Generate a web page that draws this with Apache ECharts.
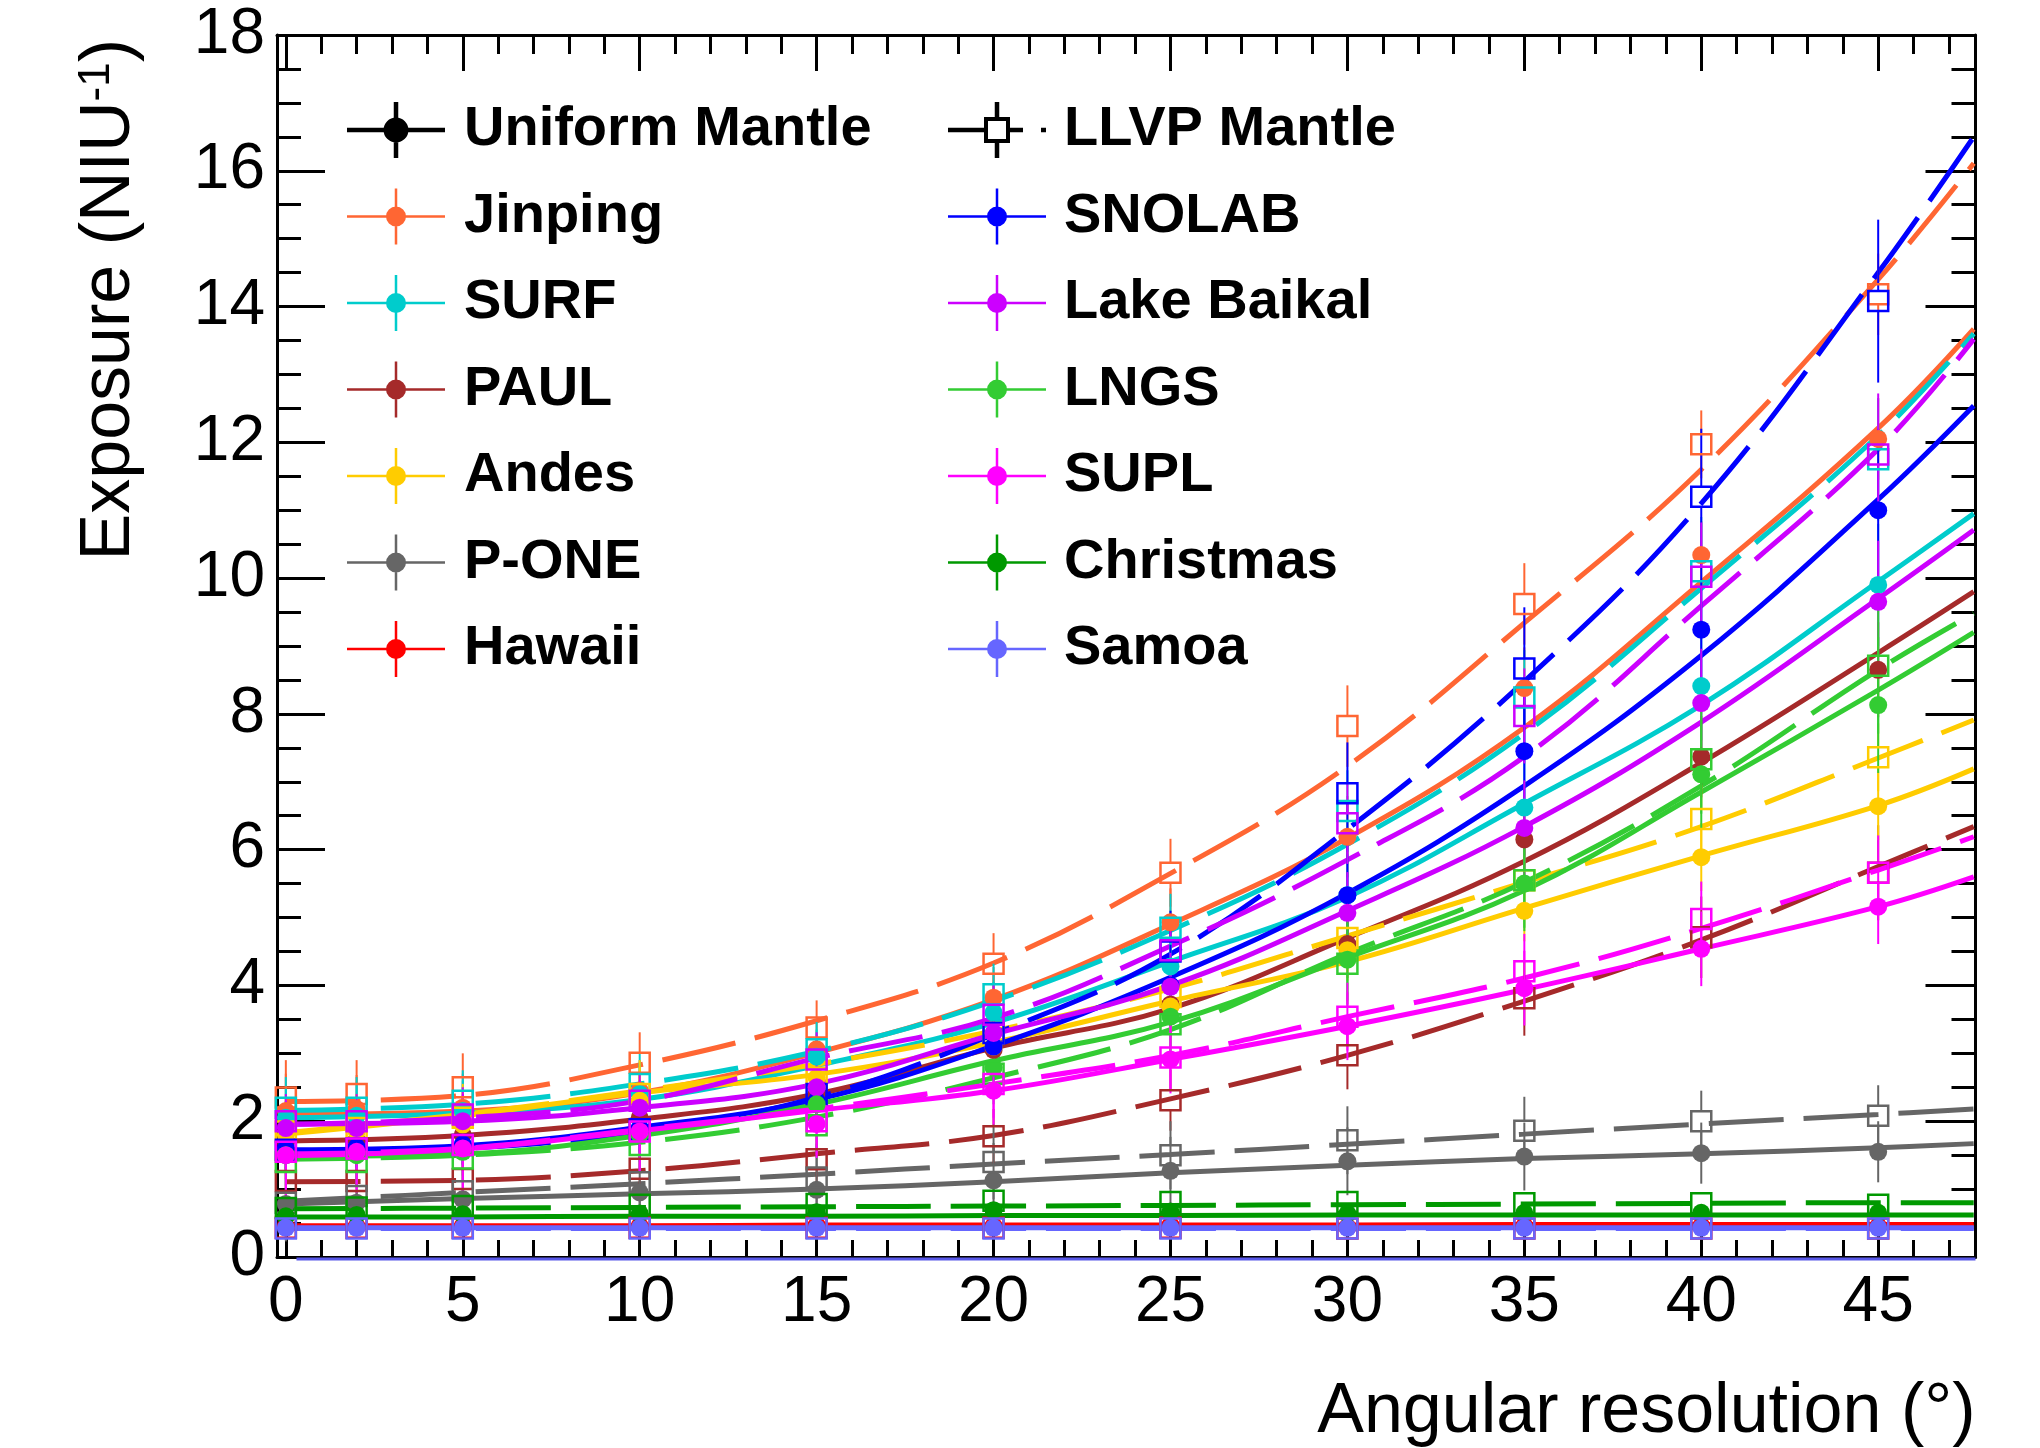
<!DOCTYPE html>
<html>
<head>
<meta charset="utf-8">
<script src="https://cdn.jsdelivr.net/npm/echarts@6/dist/echarts.min.js"></script>
<style>
html,body{margin:0;padding:0;background:#fff;}
#chart{width:2040px;height:1448px;}
</style>
</head>
<body>
<div id="chart"></div>
<script>
// ---------- data ----------
const xPoints = [0, 2, 5, 10, 15, 20, 25, 30, 35, 40, 45];
const xFit = [0, 5, 10, 15, 20, 25, 30, 35, 40, 45, 47.7];
const xMajorTicks = [0, 5, 10, 15, 20, 25, 30, 35, 40, 45];
const xMinorTicks = [1, 2, 3, 4, 6, 7, 8, 9, 11, 12, 13, 14, 16, 17, 18, 19, 21, 22, 23, 24, 26, 27, 28, 29, 31, 32, 33, 34, 36, 37, 38, 39, 41, 42, 43, 44, 46, 47];

const jinpingUniformPts = [2.15, 2.18, 2.2, 2.45, 3.06, 3.82, 4.93, 6.19, 8.38, 10.34, 12.05];
const jinpingUniformFit = [2.10, 2.15, 2.42, 3.01, 3.79, 4.90, 6.17, 7.80, 9.94, 12.21, 13.67];
const jinpingLlvpPts    = [2.35, 2.4, 2.5, 2.86, 3.38, 4.32, 5.66, 7.82, 9.62, 11.97, 14.18];
const jinpingLlvpFit    = [2.29, 2.38, 2.83, 3.48, 4.33, 5.65, 7.23, 9.34, 11.6, 14.4, 16.11];
const jinpingErr        = [0.55, 0.5, 0.5, 0.45, 0.4, 0.45, 0.5, 0.6, 0.6, 0.5, 0.6];

const surfUniformPts = [2.05, 2.08, 2.15, 2.4, 2.95, 3.6, 4.28, 5.33, 6.62, 8.41, 9.9];
const surfUniformFit = [2.05, 2.12, 2.32, 2.82, 3.45, 4.35, 5.30, 6.68, 8.13, 9.95, 10.95];
const surfLlvpPts    = [2.2, 2.2, 2.3, 2.55, 3.06, 3.87, 4.85, 6.57, 8.24, 10.1, 11.75];
const surfLlvpFit    = [2.16, 2.25, 2.55, 3.03, 3.77, 4.81, 6.08, 7.71, 9.85, 12.1, 13.6];
const surfErr        = [0.45, 0.45, 0.45, 0.45, 0.4, 0.45, 0.5, 0.6, 0.7, 0.8, 0.9];

const paulUniformPts = [1.7, 1.72, 1.8, 2.05, 2.4, 3.05, 3.72, 4.61, 6.15, 7.37, 8.65];
const paulUniformFit = [1.71, 1.79, 2.03, 2.40, 3.08, 3.66, 4.70, 5.83, 7.28, 8.9, 9.80];
const paulLlvpPts    = [1.12, 1.12, 1.15, 1.3, 1.44, 1.78, 2.31, 2.97, 3.81, 4.71, 5.66];
const paulLlvpFit    = [1.11, 1.13, 1.27, 1.52, 1.79, 2.33, 2.97, 3.77, 4.67, 5.75, 6.34];
const paulErr        = [0.35, 0.35, 0.35, 0.35, 0.35, 0.4, 0.45, 0.5, 0.55, 0.6, 0.7];

const andesUniformPts = [1.8, 1.85, 1.95, 2.3, 2.64, 3.1, 3.69, 4.52, 5.10, 5.89, 6.64];
const andesUniformFit = [1.81, 2.08, 2.42, 2.69, 3.16, 3.77, 4.35, 5.14, 5.91, 6.65, 7.19];
const andesLlvpPts    = [1.85, 1.9, 2.05, 2.4, 2.64, 3.3, 3.83, 4.70, 5.55, 6.45, 7.36];
const andesLlvpFit    = [1.83, 2.1, 2.45, 2.84, 3.33, 3.95, 4.73, 5.52, 6.34, 7.35, 7.91];
const andesErr        = [0.5, 0.5, 0.5, 0.5, 0.45, 0.45, 0.45, 0.45, 0.45, 0.5, 0.5];

const poneUniformPts = [0.78, 0.8, 0.85, 0.95, 0.99, 1.13, 1.27, 1.41, 1.48, 1.53, 1.55];
const poneUniformFit = [0.78, 0.86, 0.93, 1.0, 1.11, 1.24, 1.35, 1.45, 1.52, 1.61, 1.67];
const poneLlvpPts    = [0.8, 0.9, 0.97, 1.1, 1.17, 1.40, 1.50, 1.72, 1.86, 2.0, 2.08];
const poneLlvpFit    = [0.82, 0.95, 1.08, 1.22, 1.37, 1.51, 1.66, 1.81, 1.96, 2.10, 2.18];
const poneErr        = [0.55, 0.5, 0.5, 0.5, 0.5, 0.55, 0.5, 0.5, 0.5, 0.45, 0.45];

const hawaiiUniformPts = [0.45, 0.45, 0.46, 0.46, 0.47, 0.46, 0.47, 0.44, 0.46, 0.46, 0.45];
const hawaiiUniformFit = [0.46, 0.46, 0.46, 0.47, 0.47, 0.47, 0.47, 0.48, 0.48, 0.48, 0.48];
const hawaiiLlvpPts    = [0.43, 0.43, 0.43, 0.43, 0.43, 0.43, 0.43, 0.42, 0.42, 0.42, 0.42];
const hawaiiLlvpFit    = [0.45, 0.45, 0.45, 0.45, 0.45, 0.45, 0.45, 0.45, 0.45, 0.45, 0.45];
const hawaiiErr        = [0.05, 0.05, 0.05, 0.05, 0.05, 0.05, 0.05, 0.05, 0.05, 0.05, 0.05];

const snolabUniformPts = [1.6, 1.62, 1.66, 1.9, 2.3, 3.1, 4.0, 5.33, 7.45, 9.24, 11.0];
const snolabUniformFit = [1.58, 1.64, 1.91, 2.32, 3.11, 4.12, 5.36, 6.94, 8.86, 11.16, 12.54];
const snolabLlvpPts    = [1.58, 1.6, 1.65, 1.88, 2.4, 3.3, 4.5, 6.83, 8.67, 11.2, 14.08];
const snolabLlvpFit    = [1.55, 1.6, 1.85, 2.35, 3.28, 4.46, 6.3, 8.48, 11.1, 14.5, 16.5];
const snolabErr        = [0.3, 0.3, 0.3, 0.35, 0.4, 0.5, 0.6, 0.75, 0.9, 1.0, 1.2];

const baikalUniformPts = [1.9, 1.9, 2.0, 2.2, 2.5, 3.3, 3.98, 5.07, 6.32, 8.16, 9.65];
const baikalUniformFit = [1.96, 2.0, 2.2, 2.55, 3.28, 4.0, 5.1, 6.34, 7.88, 9.7, 10.71];
const baikalLlvpPts    = [2.0, 2.0, 2.1, 2.3, 2.91, 3.57, 4.52, 6.39, 7.97, 10.02, 11.82];
const baikalLlvpFit    = [1.95, 2.05, 2.3, 2.93, 3.52, 4.58, 5.85, 7.37, 9.59, 11.9, 13.52];
const baikalErr        = [0.4, 0.4, 0.4, 0.4, 0.4, 0.45, 0.5, 0.6, 0.7, 0.8, 0.9];

const lngsUniformPts = [1.5, 1.5, 1.55, 1.8, 2.25, 2.79, 3.54, 4.38, 5.5, 7.11, 8.13];
const lngsUniformFit = [1.48, 1.52, 1.79, 2.25, 2.89, 3.46, 4.41, 5.40, 6.85, 8.35, 9.2];
const lngsLlvpPts    = [1.4, 1.4, 1.45, 1.65, 1.94, 2.7, 3.43, 4.32, 5.55, 7.33, 8.71];
const lngsLlvpFit    = [1.44, 1.50, 1.69, 2.06, 2.64, 3.35, 4.47, 5.52, 6.94, 8.65, 9.48];
const lngsErr        = [0.35, 0.35, 0.35, 0.4, 0.4, 0.45, 0.5, 0.6, 0.7, 0.8, 1.0];

const suplUniformPts = [1.5, 1.55, 1.6, 1.85, 1.96, 2.45, 2.91, 3.40, 3.96, 4.54, 5.16];
const suplUniformFit = [1.49, 1.59, 1.86, 2.16, 2.45, 2.91, 3.40, 3.94, 4.54, 5.16, 5.6];
const suplLlvpPts    = [1.55, 1.6, 1.65, 1.85, 2.0, 2.55, 2.94, 3.54, 4.21, 4.98, 5.66];
const suplLlvpFit    = [1.52, 1.6, 1.88, 2.18, 2.55, 2.97, 3.54, 4.11, 4.84, 5.7, 6.19];
const suplErr        = [0.6, 0.6, 0.7, 0.6, 0.5, 0.5, 0.5, 0.5, 0.55, 0.55, 0.55];

const christmasUniformPts = [0.6, 0.62, 0.63, 0.64, 0.66, 0.69, 0.67, 0.64, 0.65, 0.65, 0.65];
const christmasUniformFit = [0.59, 0.59, 0.60, 0.60, 0.61, 0.61, 0.62, 0.62, 0.62, 0.62, 0.62];
const christmasLlvpPts    = [0.72, 0.73, 0.75, 0.77, 0.78, 0.83, 0.81, 0.81, 0.79, 0.79, 0.77];
const christmasLlvpFit    = [0.71, 0.72, 0.73, 0.74, 0.75, 0.76, 0.77, 0.78, 0.79, 0.80, 0.80];
const christmasErr        = [0.1, 0.1, 0.1, 0.1, 0.1, 0.1, 0.1, 0.1, 0.1, 0.1, 0.1];

const samoaUniformPts = [0.43, 0.43, 0.43, 0.43, 0.43, 0.43, 0.43, 0.43, 0.43, 0.43, 0.43];
const samoaUniformFit = [0.43, 0.43, 0.43, 0.43, 0.43, 0.43, 0.43, 0.43, 0.43, 0.43, 0.43];
const samoaLlvpPts    = [0.42, 0.42, 0.42, 0.42, 0.42, 0.42, 0.42, 0.42, 0.42, 0.42, 0.42];
const samoaLlvpFit    = [0.42, 0.42, 0.42, 0.42, 0.42, 0.42, 0.42, 0.42, 0.42, 0.42, 0.42];
const samoaErr        = [0.05, 0.05, 0.05, 0.05, 0.05, 0.05, 0.05, 0.05, 0.05, 0.05, 0.05];

const baselineX = [0.3, 47.75];
const baselineY = [-0.03, -0.03];

const legendLeftNames  = ['Uniform Mantle', 'Jinping', 'SURF', 'PAUL', 'Andes', 'P-ONE', 'Hawaii'];
const legendRightNames = ['LLVP Mantle', 'SNOLAB', 'Lake Baikal', 'LNGS', 'SUPL', 'Christmas', 'Samoa'];

// ---------- build ----------
const FONT = '"Liberation Sans", Arial, Helvetica, sans-serif';
const sites = [
  {name: 'Jinping', color: '#ff6633', u: jinpingUniformPts, uf: jinpingUniformFit, l: jinpingLlvpPts, lf: jinpingLlvpFit, e: jinpingErr},
  {name: 'SURF', color: '#00cccc', u: surfUniformPts, uf: surfUniformFit, l: surfLlvpPts, lf: surfLlvpFit, e: surfErr},
  {name: 'PAUL', color: '#a52a2a', u: paulUniformPts, uf: paulUniformFit, l: paulLlvpPts, lf: paulLlvpFit, e: paulErr},
  {name: 'Andes', color: '#ffcc00', u: andesUniformPts, uf: andesUniformFit, l: andesLlvpPts, lf: andesLlvpFit, e: andesErr},
  {name: 'P-ONE', color: '#666666', u: poneUniformPts, uf: poneUniformFit, l: poneLlvpPts, lf: poneLlvpFit, e: poneErr},
  {name: 'Hawaii', color: '#ff0000', u: hawaiiUniformPts, uf: hawaiiUniformFit, l: hawaiiLlvpPts, lf: hawaiiLlvpFit, e: hawaiiErr},
  {name: 'SNOLAB', color: '#0000ff', u: snolabUniformPts, uf: snolabUniformFit, l: snolabLlvpPts, lf: snolabLlvpFit, e: snolabErr},
  {name: 'Lake Baikal', color: '#cc00ff', u: baikalUniformPts, uf: baikalUniformFit, l: baikalLlvpPts, lf: baikalLlvpFit, e: baikalErr},
  {name: 'LNGS', color: '#33cc33', u: lngsUniformPts, uf: lngsUniformFit, l: lngsLlvpPts, lf: lngsLlvpFit, e: lngsErr},
  {name: 'SUPL', color: '#ff00ff', u: suplUniformPts, uf: suplUniformFit, l: suplLlvpPts, lf: suplLlvpFit, e: suplErr},
  {name: 'Christmas', color: '#009900', u: christmasUniformPts, uf: christmasUniformFit, l: christmasLlvpPts, lf: christmasLlvpFit, e: christmasErr},
  {name: 'Samoa', color: '#6666ff', u: samoaUniformPts, uf: samoaUniformFit, l: samoaLlvpPts, lf: samoaLlvpFit, e: samoaErr}
];

const iconSite = 'path://M0,26.75h98v2.5h-98z M47.75,0h2.5v56h-2.5z M39,28a10,10 0 1,1 20,0a10,10 0 1,1 -20,0z';
const iconUniform = 'path://M0,25.75h98v4.5h-98z M46.75,0h4.5v56h-4.5z M36.5,28a12.5,12.5 0 1,1 25,0a12.5,12.5 0 1,1 -25,0z';
const iconLlvp = 'path://M0,25.75h36v4.5h-36z M62,25.75h13v4.5h-13z M93,25.75h5v4.5h-5z M46.75,0h4.5v15h-4.5z M46.75,41h4.5v15h-4.5z M36,15h26v26h-26z M40,19v18h18v-18z';

function errorBars(name, color, pts, err, gap) {
  return {
    type: 'custom', name: name, silent: true, z: 3,
    data: xPoints.map((x, i) => [x, pts[i], err[i]]),
    encode: {x: 0, y: 1},
    renderItem: function (params, api) {
      const x = api.value(0), y = api.value(1), e = api.value(2);
      const c = api.coord([x, y]);
      const t = api.coord([x, y + e]);
      const b = api.coord([x, y - e]);
      const ch = [];
      if (c[1] - gap > t[1]) ch.push({type: 'line', shape: {x1: c[0], y1: t[1], x2: c[0], y2: c[1] - gap}, style: {stroke: color, lineWidth: 2, opacity: 1}});
      if (b[1] > c[1] + gap) ch.push({type: 'line', shape: {x1: c[0], y1: c[1] + gap, x2: c[0], y2: b[1]}, style: {stroke: color, lineWidth: 2, opacity: 1}});
      return {type: 'group', children: ch};
    }
  };
}

const series = [];
series.push({type: 'scatter', name: 'Uniform Mantle', data: [], itemStyle: {color: '#000', opacity: 1}});
series.push({type: 'scatter', name: 'LLVP Mantle', data: [], itemStyle: {color: '#000', opacity: 1}});
series.push({type: 'line', name: 'baseline', data: baselineX.map((x, i) => [x, baselineY[i]]),
  showSymbol: false, clip: false, silent: true, z: 1,
  lineStyle: {color: '#5858e8', width: 3}, itemStyle: {color: '#5858e8'}});

sites.forEach(s => {
  series.push({type: 'line', name: s.name + ' uniform fit', data: xFit.map((x, i) => [x, s.uf[i]]),
    smooth: 0.4, showSymbol: false, silent: true, z: 2,
    lineStyle: {color: s.color, width: 5, opacity: 1}, itemStyle: {color: s.color}});
  series.push({type: 'line', name: s.name + ' LLVP fit', data: xFit.map((x, i) => [x, s.lf[i]]),
    smooth: 0.4, showSymbol: false, silent: true, z: 2,
    lineStyle: {color: s.color, width: 5, type: [75, 20], opacity: 1}, itemStyle: {color: s.color}});
  series.push(errorBars(s.name + ' uniform err', s.color, s.u, s.e, 8));
  series.push(errorBars(s.name + ' LLVP err', s.color, s.l, s.e, 10));
  series.push({type: 'scatter', name: s.name, data: xPoints.map((x, i) => [x, s.u[i]]),
    symbol: 'circle', symbolSize: 18, z: 4, silent: true,
    itemStyle: {color: s.color, opacity: 1}});
  series.push({type: 'scatter', name: s.name + ' LLVP', data: xPoints.map((x, i) => [x, s.l[i]]),
    symbol: 'rect', symbolSize: 20, z: 4, silent: true,
    itemStyle: {color: 'rgba(255,255,255,0)', borderColor: s.color, borderWidth: 2.5, opacity: 1}});
});

const tickStyle = {color: '#000', width: 3};
function xAx(pos, ticks, len, withLine, withLabel) {
  return {
    type: 'value', min: -0.25, max: 47.75, position: pos,
    axisLine: {show: withLine, onZero: false, lineStyle: {color: '#000', width: 3}},
    axisTick: {show: true, inside: true, length: len, customValues: ticks, lineStyle: tickStyle},
    axisLabel: {show: withLabel, customValues: ticks, fontSize: 64, fontFamily: FONT, color: '#000', margin: 14},
    splitLine: {show: false}
  };
}
const xAxes = [
  xAx('bottom', xMajorTicks, 35, true, true),
  xAx('bottom', xMinorTicks, 17, false, false),
  xAx('top', xMajorTicks, 36, true, false),
  xAx('top', xMinorTicks, 19, false, false)
];
Object.assign(xAxes[0], {
  name: 'Angular resolution (°)', nameLocation: 'end', nameGap: 0,
  nameTextStyle: {fontSize: 70, fontFamily: FONT, color: '#000', align: 'right', verticalAlign: 'top', padding: [121, 0, 0, 0]}
});

const yAxes = [
  {type: 'value', min: 0, max: 18, interval: 2, position: 'left',
   axisLine: {show: true, onZero: false, lineStyle: {color: '#000', width: 3}},
   axisTick: {show: true, inside: true, length: 48, lineStyle: tickStyle},
   minorTick: {show: true, splitNumber: 4, length: 24, lineStyle: tickStyle},
   axisLabel: {fontSize: 64, fontFamily: FONT, color: '#000', margin: 12},
   splitLine: {show: false}, minorSplitLine: {show: false},
   name: 'Exposure (NIU{sup|-1})', nameLocation: 'end', nameRotate: 90, nameGap: -4,
   nameTextStyle: {fontSize: 70, fontFamily: FONT, color: '#000', align: 'right', verticalAlign: 'bottom',
     padding: [0, 0, 132, 0],
     rich: {sup: {fontSize: 44, fontFamily: FONT, color: '#000', verticalAlign: 'top'}}}
  },
  {type: 'value', min: 0, max: 18, interval: 2, position: 'right',
   axisLine: {show: true, onZero: false, lineStyle: {color: '#000', width: 3}},
   axisTick: {show: true, inside: true, length: 50, lineStyle: tickStyle},
   minorTick: {show: true, splitNumber: 4, length: 24, lineStyle: tickStyle},
   axisLabel: {show: false}, splitLine: {show: false}, minorSplitLine: {show: false}
  }
];

function legendData(names, headerIcon) {
  return names.map((n, i) => ({name: n, icon: i === 0 ? headerIcon : iconSite}));
}
const legendText = {fontSize: 56, fontWeight: 'bold', fontFamily: FONT, color: '#000', padding: [0, 0, 0, 14], lineHeight: 56};

const option = {
  backgroundColor: '#ffffff',
  animation: false,
  grid: {left: 277, top: 35, width: 1698.5, height: 1225, containLabel: false},
  xAxis: xAxes,
  yAxis: yAxes,
  legend: [
    {left: 342, top: 97, orient: 'vertical', itemWidth: 98, itemHeight: 56, itemGap: 30.5, selectedMode: false,
     itemStyle: {borderWidth: 0, opacity: 1}, textStyle: legendText, data: legendData(legendLeftNames, iconUniform)},
    {left: 943, top: 97, orient: 'vertical', itemWidth: 98, itemHeight: 56, itemGap: 30.5, selectedMode: false,
     itemStyle: {borderWidth: 0, opacity: 1}, textStyle: Object.assign({}, legendText, {padding: [0, 0, 0, 13]}),
     data: legendData(legendRightNames, iconLlvp)}
  ],
  series: series
};

const chart = echarts.init(document.getElementById('chart'), null, {renderer: 'canvas'});
chart.setOption(option);
</script>
</body>
</html>
